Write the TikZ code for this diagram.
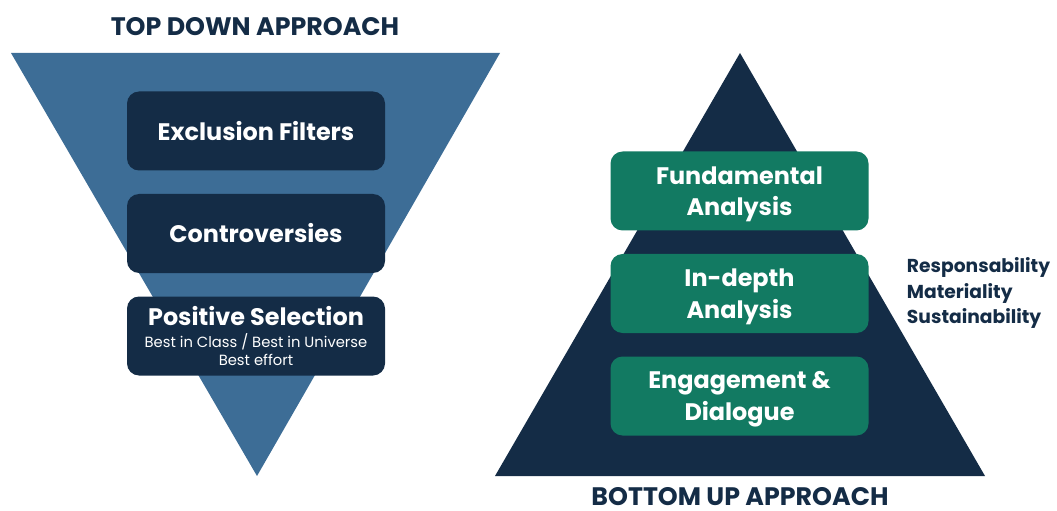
\documentclass[tikz,border=0pt]{standalone}
\usepackage{fontspec}
\setmainfont{Poppins}
\usepackage{tikz}
\usetikzlibrary{positioning}
\definecolor{funnelblue}{HTML}{3D6D96}
\definecolor{navy}{HTML}{142C46}
\definecolor{teal}{HTML}{127A62}
\newcommand{\subline}{\mdseries\fontsize{10.5}{12.8}\selectfont}
\tikzset{
  box/.style={rounded corners=12*0.025cm, minimum width=258*0.025cm, minimum height=79*0.025cm,
    text=white, font=\bfseries\fontsize{17}{22.5}\selectfont, align=center, inner sep=0pt},
  navybox/.style={box, fill=navy},
  tealbox/.style={box, fill=teal, text depth=-2pt},
  title/.style={text=navy, font=\bfseries\fontsize{18}{20}\selectfont, inner sep=0pt},
  side/.style={text=navy, font=\bfseries\fontsize{13.3}{18}\selectfont, align=left, anchor=west}
}
\begin{document}
\begin{tikzpicture}[x=0.025cm,y=-0.025cm]
\useasboundingbox (0,0) rectangle (1057,511);
%%Shapes
\fill[funnelblue] (11,53) -- (500,53) -- (257,476) -- cycle;
\fill[navy] (740,53) -- (985,476) -- (495,476) -- cycle;
%%Titles
\node[title] (topdown) at (255,27) {TOP DOWN APPROACH};
\node[title] (bottomup) at (740,497) {BOTTOM UP APPROACH};
%%Top down steps
\node[navybox] (exclusion) at (256,131) {Exclusion Filters};
\node[navybox] (controv) at (256,233.5) {Controversies};
\node[navybox] (positive) at (256,336) {Positive Selection\\[-7pt]
  {\subline Best in Class / Best in Universe}\\[-10pt]
  {\subline Best effort}};
%%Bottom up steps
\node[tealbox] (fundamental) at (739.5,191) {Fundamental\\Analysis};
\node[tealbox] (indepth) at (739.5,293.5) {In-depth\\Analysis};
\node[tealbox] (engagement) at (739.5,396) {Engagement \&\\Dialogue};
%%Label
\node[side] (pillars) at (902,293) {Responsability\\Materiality\\Sustainability};
\end{tikzpicture}
\end{document}
